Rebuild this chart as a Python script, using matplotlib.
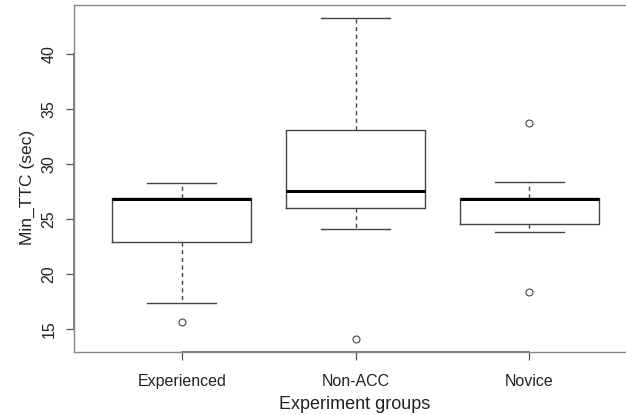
import matplotlib.pyplot as plt
from matplotlib.lines import Line2D

plt.rcParams['font.family'] = ['Liberation Sans', 'DejaVu Sans']

# Kutu grafik istatistikleri
groups = ['Experienced', 'Non-ACC', 'Novice']
whis_lo = [17.3, 24.1, 23.75]
q1 = [22.9, 25.95, 24.55]
medians = [26.8, 27.5, 26.8]
q3 = [26.85, 33.05, 26.85]
whis_hi = [28.2, 43.25, 28.3]
outliers = [[15.6], [14.1], [33.65, 18.35]]

y_ticks = [15, 20, 25, 30, 35, 40]

stats = []
for i, g in enumerate(groups):
    stats.append(dict(label=g, whislo=whis_lo[i], q1=q1[i], med=medians[i],
                      q3=q3[i], whishi=whis_hi[i], fliers=outliers[i]))

fig = plt.figure(figsize=(6.26, 4.15), dpi=100)
ax = fig.add_axes([74 / 626, 63.5 / 415, (637 - 74) / 626, (351.5 - 5) / 415])

line_col = '#444444'
ax.bxp(stats, positions=[1, 2, 3], widths=0.8, capwidths=0.4,
       boxprops=dict(color=line_col, linewidth=1.0),
       whiskerprops=dict(color=line_col, linewidth=1.0, linestyle=(0, (3, 2.5))),
       capprops=dict(color=line_col, linewidth=1.0),
       medianprops=dict(color='black', linewidth=2.2),
       flierprops=dict(marker='o', markersize=5, markerfacecolor='none',
                       markeredgecolor=line_col, markeredgewidth=0.8))

# R tarzı eksen sınırları (%4 genişletme)
y_min = min(min(whis_lo), min(min(o) for o in outliers))
y_max = max(max(whis_hi), max(max(o) for o in outliers))
span = y_max - y_min
ax.set_ylim(y_min - 0.04 * span, y_max + 0.04 * span)
ax.set_xlim(0.38, 3.62)

for s in ax.spines.values():
    s.set_color('#888888')
    s.set_linewidth(1.0)

# eksen çizgileri sadece ilk ve son tik arasında
y0 = ax.get_ylim()[0]
ax.add_line(Line2D([1, 3], [y0, y0], color='#555555', linewidth=1.1, clip_on=False))
ax.add_line(Line2D([0.38, 0.38], [y_ticks[0], y_ticks[-1]], color='#555555',
                   linewidth=1.1, clip_on=False))

ax.set_yticks(y_ticks)
ax.set_yticklabels([str(t) for t in y_ticks], rotation=90, va='center')
ax.set_xticks([1, 2, 3])
ax.set_xticklabels(groups)
ax.tick_params(axis='both', length=6, width=0.9, color='#555555',
               labelsize=11.5, labelcolor='#222222')
ax.tick_params(axis='y', pad=6.5)
ax.tick_params(axis='x', pad=10)

fig.text(27 / 626, 1 - 187 / 415, 'Min_TTC (sec)', rotation=90, ha='center',
         va='center', fontsize=12.5, color='#222222')
fig.text(355 / 626, 1 - 409.3 / 415, 'Experiment groups', ha='center',
         va='baseline', fontsize=13, color='#222222')

fig.savefig('out.png', dpi=100)
